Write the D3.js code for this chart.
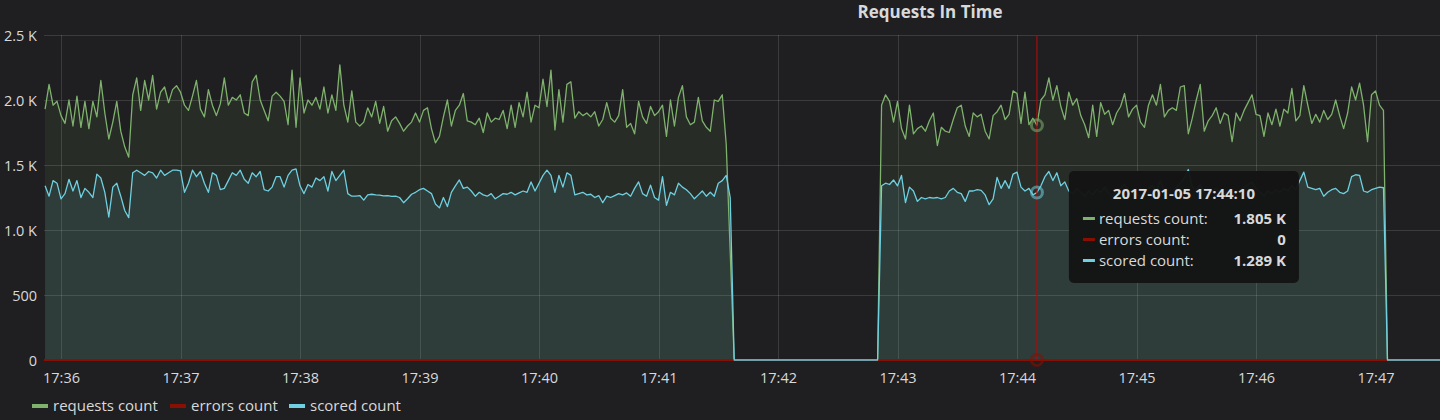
<!DOCTYPE html>
<html><head><meta charset="utf-8">
<script src="https://cdn.jsdelivr.net/npm/d3@7"></script>
<style>
html,body{margin:0;padding:0;background:#1f1e20;}
svg{display:block;font-family:"Open Sans",sans-serif;}
</style></head>
<body><svg id="chart" width="1440" height="420"></svg>
<script>
// ---------------- data ----------------
const chartTitle = "Requests In Time";
const day = [2017, 0, 5];
const seriesNames = ["requests count", "errors count", "scored count"];
const seriesColors = ["#7eb26d", "#890f02", "#6ed0e0"];
const stepSeconds = 2;

const segment1Start = "17:35:52";
const requests1 = [
1930,2120,1960,1990,1880,1820,2000,1800,2030,1790,
1990,1780,1990,1870,2150,1900,1700,1830,1990,1760,
1640,1560,2040,2170,1920,2150,2000,2190,1930,2060,
2100,1980,2080,2110,2060,1960,1920,2030,2150,1930,
1870,2080,1960,1880,1970,2170,1960,2020,2000,
2040,1900,1880,2140,2190,2000,1920,1840,2030,2060,
2030,1990,1810,2230,1790,2170,1900,2000,1960,2020,
1930,2100,1900,2040,1920,2270,1960,1830,2070,1830,
1800,1830,1940,1870,1990,1820,1950,1760,1840,1870,
1820,1760,1800,1830,1900,1830,1920,1940,1780,1670,
1720,1870,2000,1800,1920,1960,2050,1840,1830,1810,
1860,1750,1900,1830,1860,1850,1920,1780,1960,1790,
1980,1870,2060,1830,1960,1940,2160,1950,2230,1770,
2080,1830,2120,2140,1860,1910,1880,1900,1870,1910,
1800,1850,1980,1860,1830,1880,2080,1790,1820,1740,
1990,1870,1820,1950,1880,1910,1960,1720,2000,1800,
2020,2110,1870,1810,1830,2020,1840,1790,1760,2000,
1990,2040,1660];
const scored1 = [
1340,1260,1380,1360,1240,1280,1390,1300,1380,1250,
1320,1290,1250,1430,1400,1290,1100,1330,1360,1260,
1150,1095,1440,1460,1440,1420,1450,1440,1400,1460,
1420,1440,1460,1460,1455,1290,1360,1460,1410,1450,
1360,1290,1440,1420,1310,1320,1380,1440,1420,1460,
1390,1360,1440,1410,1450,1310,1300,1330,1410,1410,
1330,1420,1460,1470,1340,1280,1350,1330,1400,1380,
1410,1300,1450,1380,1420,1460,1280,1260,1260,1265,
1230,1270,1275,1270,1268,1262,1265,1258,1260,1250,
1210,1240,1275,1290,1310,1320,1300,1280,1200,1170,
1250,1180,1290,1340,1385,1320,1330,1300,1260,1290,
1270,1260,1280,1240,1260,1280,1275,1290,1270,1285,
1300,1290,1370,1300,1360,1420,1460,1420,1290,1420,
1330,1440,1420,1270,1280,1290,1270,1275,1250,1265,
1210,1260,1250,1265,1280,1270,1285,1260,1320,1370,
1280,1260,1345,1250,1230,1410,1190,1290,1270,1360,
1330,1310,1280,1240,1270,1300,1260,1290,1260,1360,
1380,1420,1250];
const idle1 = ["17:41:38", "17:42:50"];   // zero traffic

const segment2Start = "17:42:52";
const requests2 = [
1960,2040,1990,1830,1990,1780,1700,1960,1740,1780,
1800,1760,1840,1900,1650,1790,1760,1750,1850,1940,
1960,1800,1720,1900,1870,1890,1760,1700,1880,1910,
1960,1850,1890,2070,2050,1820,2060,1810,1860,1805,
2000,2040,2170,2000,2110,1950,1850,2060,1960,2010,
1880,1810,1710,1960,1720,1980,1890,1920,1810,1900,
1950,2050,1870,1930,1960,1830,1790,1960,2040,1960,
2120,1870,1920,1940,1920,2100,2110,1740,1860,2000,
2120,1760,1840,1880,1940,1820,1900,1880,1680,1900,
1840,1920,1980,2040,1890,1880,1720,1900,1810,1930,
1800,1930,1900,2090,1840,1880,2110,1960,1820,1890,
1830,1920,1850,1890,2000,1880,1780,1900,2100,2000,
2130,1960,1680,2040,2070,1960,1920];
const scored2 = [
1340,1360,1350,1385,1340,1420,1210,1330,1300,1220,
1250,1240,1250,1245,1250,1240,1250,1300,1320,1290,
1280,1220,1300,1300,1310,1305,1270,1195,1240,1405,
1320,1380,1320,1430,1445,1330,1300,1320,1270,1289,
1340,1410,1450,1380,1440,1340,1370,1300,1280,1320,
1290,1260,1300,1270,1310,1290,1330,1280,1260,1300,
1320,1350,1290,1310,1280,1260,1290,1320,1340,1300,
1380,1290,1310,1300,1330,1360,1400,1465,1330,1310,
1350,1280,1270,1300,1320,1290,1280,1300,1240,1290,
1310,1330,1350,1370,1320,1290,1260,1300,1280,1310,
1290,1320,1300,1340,1310,1380,1445,1330,1320,1310,
1320,1260,1290,1310,1320,1290,1280,1300,1410,1425,
1420,1300,1290,1310,1320,1330,1325];
const idle2 = ["17:47:06", "17:47:40"];   // zero traffic

const errorsTimes = ["17:35:50", "17:47:40"];
const errorsValues = [0, 0];

const xDomain = ["17:35:51.46", "17:47:32.38"];
const yDomain = [0, 2500];
const yTicks = [0, 500, 1000, 1500, 2000, 2500];
const yTickLabels = ["0", "500", "1.0 K", "1.5 K", "2.0 K", "2.5 K"];

const hoverTime = "17:44:10";
const hoverTitle = "2017-01-05 17:44:10";
const hoverLabels = ["requests count:", "errors count:", "scored count:"];
const hoverValues = ["1.805 K", "0", "1.289 K"];

// ---------------- helpers ----------------
function t(str) {
  const p = str.split(":");
  const s = parseFloat(p[2]);
  return new Date(day[0], day[1], day[2], +p[0], +p[1], Math.floor(s), Math.round((s % 1) * 1000));
}
function segmentPoints(start, values) {
  const t0 = t(start).getTime();
  return values.map((v, i) => ({ t: new Date(t0 + i * stepSeconds * 1000), v }));
}
function buildSeries(v1, v2) {
  return [
    ...segmentPoints(segment1Start, v1),
    { t: t(idle1[0]), v: 0 }, { t: t(idle1[1]), v: 0 },
    ...segmentPoints(segment2Start, v2),
    { t: t(idle2[0]), v: 0 }, { t: t(idle2[1]), v: 0 }
  ];
}
const requestsSeries = buildSeries(requests1, requests2);
const scoredSeries = buildSeries(scored1, scored2);
const errorsSeries = errorsTimes.map((s, i) => ({ t: t(s), v: errorsValues[i] }));
const allSeries = [requestsSeries, errorsSeries, scoredSeries];

// ---------------- layout ----------------
const plot = { left: 44, right: 1440, top: 35, bottom: 360 };
const textColor = "#d8d9da";
const font = '"Open Sans",sans-serif';

const svg = d3.select("#chart");
const x = d3.scaleTime().domain(xDomain.map(t)).range([plot.left, plot.right]);
const y = d3.scaleLinear().domain(yDomain).range([plot.bottom, plot.top]);

svg.append("defs").append("clipPath").attr("id", "clip")
  .append("rect").attr("x", plot.left).attr("y", plot.top - 5)
  .attr("width", plot.right - plot.left).attr("height", plot.bottom - plot.top + 7);

// grid
const gridColor = "rgba(255,255,255,0.13)";
svg.append("g").attr("transform", `translate(${plot.left},0)`)
  .call(d3.axisLeft(y).tickValues(yTicks).tickSize(-(plot.right - plot.left)).tickFormat(""))
  .call(g => g.select(".domain").remove())
  .call(g => g.selectAll("line").attr("stroke", gridColor).attr("shape-rendering", "crispEdges"));
svg.append("g").attr("transform", `translate(0,${plot.bottom})`)
  .call(d3.axisBottom(x).ticks(d3.timeMinute.every(1)).tickSize(-(plot.bottom - plot.top)).tickFormat(""))
  .call(g => g.select(".domain").remove())
  .call(g => g.selectAll("line").attr("stroke", gridColor).attr("shape-rendering", "crispEdges"));

// axis labels
svg.append("g").attr("transform", `translate(${plot.left},0)`)
  .call(d3.axisLeft(y).tickValues(yTicks).tickSize(0).tickPadding(7).tickFormat((d, i) => yTickLabels[i]))
  .call(g => g.select(".domain").remove())
  .call(g => g.selectAll("text").attr("fill", textColor).attr("font-size", 14.5)
    .attr("font-family", font).attr("dy", "0.35em"));
svg.append("g").attr("transform", `translate(0,${plot.bottom})`)
  .call(d3.axisBottom(x).ticks(d3.timeMinute.every(1)).tickSize(0).tickFormat(d3.timeFormat("%H:%M")))
  .call(g => g.select(".domain").remove())
  .call(g => g.selectAll("text").attr("fill", textColor).attr("font-size", 14.5)
    .attr("font-family", font).attr("y", 22.5).attr("dy", null));

// series
const area = d3.area().x(d => x(d.t)).y0(y(0)).y1(d => y(d.v));
const line = d3.line().x(d => x(d.t)).y(d => y(d.v));
const plotG = svg.append("g").attr("clip-path", "url(#clip)");
allSeries.forEach((s, i) => {
  plotG.append("path").datum(s).attr("d", area)
    .attr("fill", seriesColors[i]).attr("fill-opacity", 0.1);
});
allSeries.forEach((s, i) => {
  plotG.append("path").datum(s).attr("d", line)
    .attr("fill", "none").attr("stroke", seriesColors[i])
    .attr("stroke-width", i === 1 ? 2 : 1.3).attr("stroke-linejoin", "round");
});

// hover crosshair
const hx = x(t(hoverTime));
svg.append("line").attr("x1", hx).attr("x2", hx).attr("y1", plot.top).attr("y2", plot.bottom)
  .attr("stroke", "#a50e0e").attr("stroke-width", 1.2);
allSeries.forEach((s, i) => {
  const p = s.find(d => Math.abs(d.t - t(hoverTime)) < 1000) || { v: 0 };
  svg.append("circle").attr("cx", hx).attr("cy", y(p.v)).attr("r", 5.5)
    .attr("fill", "none").attr("stroke", seriesColors[i]).attr("stroke-opacity", 0.55).attr("stroke-width", 3);
});

// title
svg.append("text").attr("x", 930).attr("y", 18.3).attr("text-anchor", "middle")
  .attr("fill", textColor).attr("font-size", 17).attr("font-weight", 700).text(chartTitle);

// legend
const legendX = [32, 170, 289];
seriesNames.forEach((n, i) => {
  svg.append("rect").attr("x", legendX[i]).attr("y", 404).attr("width", 16).attr("height", 4)
    .attr("fill", seriesColors[i]);
  svg.append("text").attr("x", legendX[i] + 21).attr("y", 411).attr("fill", textColor)
    .attr("font-size", 15).text(n);
});

// tooltip
const tip = svg.append("g").attr("transform", `translate(${hx + 32},171)`);
tip.append("rect").attr("width", 230).attr("height", 112).attr("rx", 5)
  .attr("fill", "#141414").attr("fill-opacity", 0.97);
tip.append("text").attr("x", 115).attr("y", 27.5).attr("text-anchor", "middle")
  .attr("fill", textColor).attr("font-size", 15).attr("font-weight", 700).text(hoverTitle);
hoverLabels.forEach((lab, i) => {
  const by = 52.5 + i * 21;
  tip.append("rect").attr("x", 14).attr("y", by - 6.5).attr("width", 12).attr("height", 3)
    .attr("fill", seriesColors[i]);
  tip.append("text").attr("x", 30).attr("y", by).attr("fill", textColor).attr("font-size", 15).text(lab);
  tip.append("text").attr("x", 217).attr("y", by).attr("text-anchor", "end")
    .attr("fill", textColor).attr("font-size", 15).attr("font-weight", 700).text(hoverValues[i]);
});
</script>
</body></html>
